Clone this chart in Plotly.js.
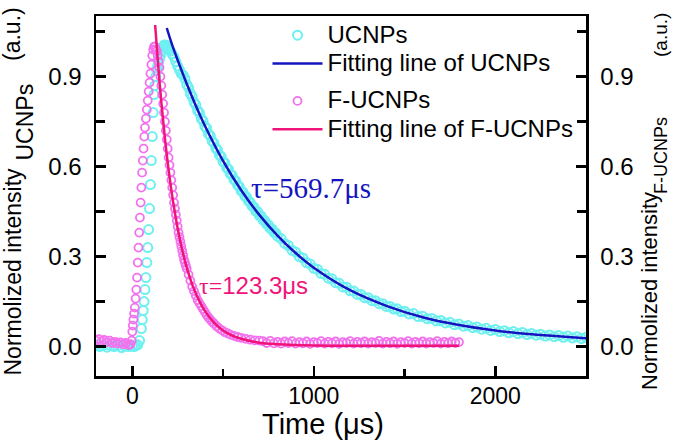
<!DOCTYPE html>
<html><head><meta charset="utf-8">
<script src="https://cdn.plot.ly/plotly-3.0.1.min.js"></script>
<style>html,body{margin:0;padding:0;background:#fff}</style>
</head><body>
<div id="chart" style="width:675px;height:447px"></div>
<script>
// ---- data ----
const ucnpTime = [-200,-180,-160,-140,-120,-100,-80,-60,-40,-20,0,10,20,30,
 40,50,55,60,65,70,75,80,85,90,95,100,105,110,115,120,125,130,135,140,145,150,155,160,165,170,175,180,185,190,195,200,210,220,230,240,250,260,270,
 280,290,300,310,320,330,340,350,360,370,380,390,400,410,420,430,440,450,460,470,480,490,500,510,520,530,540,550,560,570,580,590,600,610,620,630,640,650,660,670,680,690,700,710,720,730,740,750,760,770,780,790,800,
 820,840,860,880,900,920,940,960,980,1000,1020,1040,1060,1080,1100,1120,1140,1160,1180,1200,1220,1240,1260,1280,1300,1320,1340,1360,1380,1400,1420,1440,1460,1480,1500,
 1525,1550,1575,1600,1625,1650,1675,1700,1725,1750,1775,1800,1825,1850,1875,1900,1925,1950,1975,2000,2025,2050,2075,2100,2125,2150,2175,2200,2225,2250,2275,2300,2325,2350,2375,2400,2425,2450,2475,2500];
const ucnpIntensity = [0.005,0.0,0.004,-0.002,0.003,0.0,0.004,-0.003,0.002,0.0,0.002,0.0,0.003,0.006,
 0.02,0.06,0.09,0.12,0.15,0.19,0.23,0.28,0.33,0.39,0.46,0.54,0.62,0.70,0.78,0.84,0.87,0.90,0.92,0.935,0.95,0.96,0.97,0.985,0.995,1.0,1.005,1.0,1.005,0.995,0.995,0.99,0.985,0.975,0.965,0.95,0.935,0.922,0.91,
 0.905,0.893,0.874,0.863,0.844,0.833,0.815,0.806,0.787,0.779,0.760,0.752,0.734,0.727,0.709,0.702,0.685,0.678,0.662,0.655,0.639,0.633,0.617,0.612,0.596,0.591,0.576,0.571,0.557,0.552,0.538,0.533,0.519,0.515,0.502,0.498,0.485,0.481,0.468,0.465,0.452,0.450,0.437,0.435,0.422,0.420,0.408,0.406,0.394,0.392,0.381,0.379,0.368,
 0.360,0.344,0.337,0.321,0.315,0.300,0.295,0.280,0.275,0.261,0.258,0.244,0.241,0.228,0.226,0.213,0.211,0.199,0.198,0.186,0.185,0.174,0.174,0.163,0.163,0.153,0.153,0.143,0.143,0.134,0.134,0.125,0.126,0.117,0.118,
 0.109,0.110,0.100,0.101,0.093,0.094,0.086,0.087,0.079,0.081,0.073,0.075,0.068,0.070,0.063,0.065,0.058,0.061,0.054,0.057,0.050,0.053,0.046,0.050,0.043,0.047,0.040,0.044,0.038,0.041,0.035,0.039,0.033,0.037,0.031,0.035,0.029,0.033,0.027,0.031];

const fucnpTime = [-200,-185,-170,-155,-140,-125,-110,-95,-80,-65,-50,-35,-20,-10,
 -3,0,3,6,10,14,18,22,26,30,34,38,42,46,50,54,58,62,66,70,75,80,85,90,95,100,105,110,115,120,
 125,130,135,140,145,150,155,160,165,170,175,180,185,190,195,200,205,210,215,220,225,230,235,240,245,250,255,260,265,270,275,280,285,290,295,300,310,320,330,340,350,360,370,380,390,400,410,420,430,440,450,465,480,495,510,525,540,560,580,600,625,650,675,700,
 720,740,760,780,800,820,840,860,880,900,920,940,960,980,1000,1020,1040,1060,1080,1100,1120,1140,1160,1180,1200,1220,1240,1260,1280,1300,1320,1340,1360,1380,1400,1420,1440,1460,1480,1500,1520,1540,1560,1580,1600,1620,1640,1660,1680,1700,1720,1740,1760,1780,1800];
const fucnpIntensity = [0.02,0.025,0.018,0.022,0.015,0.02,0.012,0.016,0.01,0.014,0.008,0.012,0.005,0.008,
 0.02,0.05,0.07,0.09,0.11,0.13,0.16,0.19,0.23,0.28,0.33,0.38,0.43,0.48,0.53,0.58,0.62,0.66,0.70,0.73,0.76,0.79,0.82,0.85,0.88,0.91,0.94,0.97,0.99,1.0,
 1.0,0.99,0.985,0.97,0.95,0.93,0.90,0.87,0.84,0.81,0.78,0.75,0.72,0.69,0.66,0.63,0.605,0.58,0.555,0.53,0.505,0.48,0.46,0.44,0.42,0.40,0.38,0.365,0.35,0.335,0.32,0.305,0.29,0.28,0.27,0.26,0.24,0.22,0.20,0.185,0.17,0.155,0.145,0.135,0.125,0.115,0.105,0.097,0.09,0.083,0.077,0.068,0.06,0.054,0.048,0.044,0.04,0.036,0.032,0.029,0.026,0.023,0.021,0.02,
 0.018,0.012,0.019,0.011,0.016,0.010,0.017,0.012,0.018,0.010,0.015,0.011,0.017,0.009,0.015,0.012,0.018,0.010,0.016,0.011,0.017,0.009,0.015,0.012,0.018,0.010,0.016,0.011,0.017,0.010,0.015,0.012,0.019,0.010,0.016,0.011,0.017,0.009,0.015,0.012,0.018,0.010,0.016,0.011,0.017,0.010,0.015,0.012,0.018,0.010,0.016,0.011,0.017,0.012,0.015];

const ucnpFitTime  = [190,220,250,300,350,400,500,600,700,800,900,1000,1200,1400,1600,1800,2000,2200,2400,2500];
const ucnpFitValue = [1.062,1.005,0.955,0.876,0.803,0.736,0.619,0.521,0.439,0.370,0.312,0.263,0.188,0.136,0.098,0.072,0.054,0.041,0.032,0.028];
const fucnpFitTime  = [126,140,160,180,200,225,250,275,300,325,350,400,450,500,550,600,700,800,1000,1300,1800];
const fucnpFitValue = [1.072,0.957,0.814,0.693,0.590,0.482,0.394,0.322,0.264,0.216,0.177,0.119,0.080,0.054,0.037,0.026,0.013,0.008,0.004,0.003,0.003];

const seriesNames = ['UCNPs','Fitting line of UCNPs','F-UCNPs','Fitting line of F-UCNPs'];
const xTickVals = [0,1000,2000];
const yTickVals = [0,0.3,0.6,0.9];
const yTickText = ['0.0','0.3','0.6','0.9'];
const xTitle = 'Time (μs)';
const tauUcnp = 'τ=569.7μs';
const tauFucnp = '123.3μs';

// ---- styles ----
const SANS = 'Liberation Sans, Arial, sans-serif';
const SERIF = 'Liberation Serif, Times New Roman, serif';
const cyan = '#6ef0f0', pink = '#f272ee', blue = '#1414c0', rose = '#f0147a';
const px = v => (v - 96) / 490;      // pixel -> paper x
const py = v => (376 - v) / 360;     // pixel -> paper y
const big = s => '<span style="font-size:24px">' + s + '</span>';

const traces = [
  {x: ucnpTime, y: ucnpIntensity, name: big(seriesNames[0]), type: 'scatter', mode: 'markers',
   marker: {symbol: 'circle-open', size: 9, color: cyan, line: {width: 2, color: cyan}},
   legendgroup: 'u', legendrank: 1, xaxis: 'x', yaxis: 'y'},
  {x: fucnpTime, y: fucnpIntensity, name: big(seriesNames[2]), type: 'scatter', mode: 'markers',
   marker: {symbol: 'circle-open', size: 8, color: pink, line: {width: 1.8, color: pink}},
   legendgroup: 'f', legendrank: 3, xaxis: 'x', yaxis: 'y2'},
  {x: ucnpFitTime, y: ucnpFitValue, name: big(seriesNames[1]), type: 'scatter', mode: 'lines',
   line: {color: blue, width: 2.5, shape: 'spline', smoothing: 1},
   legendgroup: 'u', legendrank: 2, xaxis: 'x', yaxis: 'y'},
  {x: fucnpFitTime, y: fucnpFitValue, name: big(seriesNames[3]), type: 'scatter', mode: 'lines',
   line: {color: rose, width: 2.5, shape: 'spline', smoothing: 1},
   legendgroup: 'f', legendrank: 4, xaxis: 'x', yaxis: 'y2'}
];

const yCommon = {
  range: [-0.098, 1.102], tickvals: yTickVals, ticktext: yTickText,
  ticks: 'inside', ticklen: 10, tickwidth: 2.5, tickcolor: '#000',
  minor: {tickvals: [0.15,0.45,0.75,1.05], ticks: 'inside', ticklen: 9, tickwidth: 2.5, tickcolor: '#000'},
  showline: true, linewidth: 2.5, linecolor: '#000', showgrid: false, zeroline: false,
  tickfont: {family: SANS, size: 24, color: '#000'}, ticklabelstandoff: 7
};

const layout = {
  width: 675, height: 447,
  margin: {l: 96, r: 89, t: 16, b: 71, pad: 0},
  paper_bgcolor: '#fff', plot_bgcolor: '#fff',
  font: {family: SANS, color: '#000'},
  showlegend: true,
  legend: {x: 0.35, xanchor: 'left', y: 1.0, yanchor: 'top', bgcolor: 'rgba(0,0,0,0)',
           font: {family: SANS, size: 19.5, color: '#000'}, tracegroupgap: 9, traceorder: 'grouped', itemwidth: 50},
  xaxis: {range: [-200, 2500], tickvals: xTickVals, ticktext: xTickVals.map(String),
          ticks: 'inside', ticklen: 10, tickwidth: 2.5, tickcolor: '#000',
          minor: {tickvals: [500,1500], ticks: 'inside', ticklen: 7, tickwidth: 2.5, tickcolor: '#000'},
          showline: true, linewidth: 2.5, linecolor: '#000', mirror: true, showgrid: false, zeroline: false,
          tickfont: {family: SANS, size: 23, color: '#000'}, ticklabelstandoff: -2},
  yaxis: Object.assign({}, yCommon, {side: 'left'}),
  yaxis2: Object.assign({}, yCommon, {side: 'right', overlaying: 'y'}),
  annotations: [
    {xref: 'paper', yref: 'paper', x: px(323), y: py(424), text: xTitle,
     showarrow: false, font: {family: SANS, size: 29, color: '#000'}, xanchor: 'center', yanchor: 'middle'},
    {xref: 'paper', yref: 'paper', x: px(12), y: py(271.5), text: 'Normolized intensity', textangle: -90,
     showarrow: false, font: {family: SANS, size: 23, color: '#000'}, xanchor: 'center', yanchor: 'middle'},
    {xref: 'paper', yref: 'paper', x: px(25), y: py(122.5), text: 'UCNPs', textangle: -90,
     showarrow: false, font: {family: SANS, size: 23, color: '#000'}, xanchor: 'center', yanchor: 'middle'},
    {xref: 'paper', yref: 'paper', x: px(12), y: py(34), text: '(a.u.)', textangle: -90,
     showarrow: false, font: {family: SANS, size: 23, color: '#000'}, xanchor: 'center', yanchor: 'middle'},
    {xref: 'paper', yref: 'paper', x: px(649), y: py(291), text: 'Normolized intensity', textangle: -90,
     showarrow: false, font: {family: SANS, size: 22, color: '#000'}, xanchor: 'center', yanchor: 'middle'},
    {xref: 'paper', yref: 'paper', x: px(661), y: py(156), text: 'F-UCNPs', textangle: -90,
     showarrow: false, font: {family: SANS, size: 18, color: '#000'}, xanchor: 'center', yanchor: 'middle'},
    {xref: 'paper', yref: 'paper', x: px(660), y: py(35), text: '(a.u.)', textangle: -90,
     showarrow: false, font: {family: SANS, size: 19, color: '#000'}, xanchor: 'center', yanchor: 'middle'},
    {xref: 'paper', yref: 'paper', x: px(311), y: py(188), text: tauUcnp,
     showarrow: false, font: {family: SERIF, size: 29, color: blue}, xanchor: 'center', yanchor: 'middle'},
    {xref: 'paper', yref: 'paper', x: px(253), y: py(285),
     text: '<span style="font-family:Liberation Serif, serif">τ=</span>' + tauFucnp,
     showarrow: false, font: {family: SANS, size: 24, color: rose}, xanchor: 'center', yanchor: 'middle'}
  ]
};

Plotly.newPlot('chart', traces, layout, {displayModeBar: false, staticPlot: true});
</script>
</body></html>
